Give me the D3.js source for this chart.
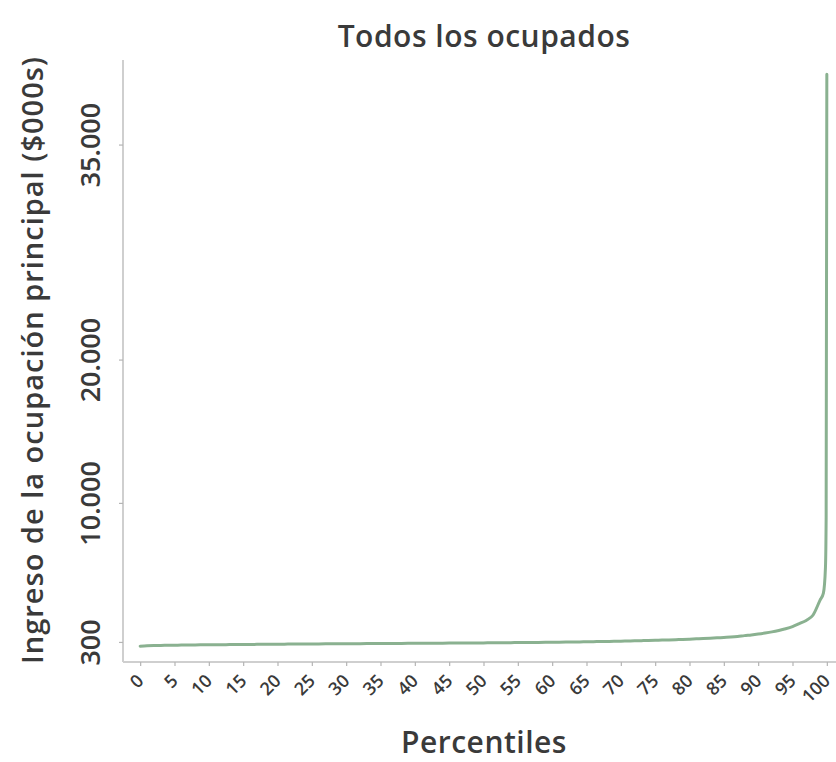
<!DOCTYPE html>
<html>
<head>
<meta charset="utf-8">
<script src="https://cdn.jsdelivr.net/npm/d3@7"></script>
<style>
  html, body { margin: 0; padding: 0; background: #ffffff; }
  svg { display: block; }
  text { font-family: "Open Sans", "DejaVu Sans", sans-serif; fill: #3a3a3a; }
</style>
</head>
<body>
<svg id="chart" width="836" height="762"></svg>
<script>
// ---- data ----
const chartTitle = "Todos los ocupados";
const xTitle = "Percentiles";
const yTitle = "Ingreso de la ocupación principal ($000s)";

const percentiles = [
  0, 1, 2, 3, 4, 5, 6, 7, 8, 9, 10,
  11, 12, 13, 14, 15, 16, 17, 18, 19, 20,
  21, 22, 23, 24, 25, 26, 27, 28, 29, 30,
  31, 32, 33, 34, 35, 36, 37, 38, 39, 40,
  41, 42, 43, 44, 45, 46, 47, 48, 49, 50,
  51, 52, 53, 54, 55, 56, 57, 58, 59, 60,
  61, 62, 63, 64, 65, 66, 67, 68, 69, 70,
  71, 72, 73, 74, 75, 76, 77, 78, 79, 80,
  81, 82, 83, 84, 85, 86, 87, 88, 89, 90,
  91, 92, 93, 94, 95, 96, 97, 98, 99, 99.5, 99.8, 99.9, 100
];
const incomes = [
  5, 30, 45, 55, 65, 72, 80, 86, 92, 97, 102,
  106, 110, 114, 118, 122, 126, 130, 134, 138, 142,
  146, 150, 153, 156, 159, 162, 165, 168, 171, 174,
  177, 180, 183, 186, 189, 192, 195, 198, 201, 204,
  207, 210, 213, 216, 219, 222, 225, 228, 231, 234,
  238, 242, 246, 250, 254, 258, 263, 268, 273, 278,
  284, 290, 296, 302, 310, 318, 326, 335, 344, 354,
  365, 376, 388, 400, 413, 427, 442, 458, 475, 494,
  514, 536, 560, 586, 614, 640, 680, 740, 790, 850,
  920, 1000, 1100, 1220, 1370, 1580, 1800, 2180, 3200, 3700, 5500, 9000, 39900
];

const xTickValues = [0, 5, 10, 15, 20, 25, 30, 35, 40, 45, 50, 55, 60, 65, 70, 75, 80, 85, 90, 95, 100];
const yTickValues = [300, 10000, 20000, 35000];
const yTickLabels = ["300", "10.000", "20.000", "35.000"];

// ---- layout ----
const svg = d3.select("#chart");
const mLeft = 123, mRight = 844, mTop = 60, mBottom = 662;

const x = d3.scaleLinear().domain([-2.5, 102.5]).range([mLeft, mRight]);
const y = d3.scaleLinear().domain([-1100, 40900]).range([mBottom, mTop]);

const axisColor = "#cfcfcf";

// axis lines
svg.append("line")
  .attr("x1", mLeft).attr("x2", mLeft).attr("y1", mTop).attr("y2", mBottom)
  .attr("stroke", axisColor).attr("stroke-width", 2);
svg.append("line")
  .attr("x1", mLeft).attr("x2", 836).attr("y1", mBottom).attr("y2", mBottom)
  .attr("stroke", axisColor).attr("stroke-width", 2);

// y axis ticks
const yAxis = d3.axisLeft(y).tickValues(yTickValues)
  .tickSize(4).tickFormat((d, i) => yTickLabels[i]);
const gy = svg.append("g").attr("transform", `translate(${mLeft},0)`).call(yAxis);
gy.select(".domain").remove();
gy.selectAll(".tick line").attr("stroke", "#b5b5b5").attr("stroke-width", 1.2);
gy.selectAll(".tick text")
  .attr("x", null).attr("dy", null)
  .attr("transform", "translate(-23,0) rotate(-90)")
  .attr("text-anchor", "middle")
  .style("font-size", "27px").style("font-weight", 600)
  .attr("fill", "#444");

// x axis ticks
const xAxis = d3.axisBottom(x).tickValues(xTickValues).tickSize(4).tickFormat(d3.format("d"));
const gx = svg.append("g").attr("transform", `translate(0,${mBottom})`).call(xAxis);
gx.select(".domain").remove();
gx.selectAll(".tick line").attr("stroke", "#b5b5b5").attr("stroke-width", 1.2);
gx.selectAll(".tick text")
  .attr("y", null).attr("dy", null)
  .attr("transform", "translate(4,20) rotate(-45)")
  .attr("text-anchor", "end")
  .style("font-size", "18px").style("font-weight", 600)
  .attr("fill", "#555");

// line
const data = percentiles.map((p, i) => ({ p: p, v: incomes[i] }));
const line = d3.line().curve(d3.curveMonotoneX).x(d => x(d.p)).y(d => y(d.v));
svg.append("path")
  .datum(data)
  .attr("d", line)
  .attr("fill", "none")
  .attr("stroke", "#8ab190")
  .attr("stroke-width", 3)
  .attr("stroke-linejoin", "round")
  .attr("stroke-linecap", "round");

// titles
svg.append("text")
  .attr("x", 484).attr("y", 47)
  .attr("text-anchor", "middle")
  .style("font-size", "30px").style("font-weight", 600)
  .style("letter-spacing", "0.5px")
  .text(chartTitle);

svg.append("text")
  .attr("x", 484).attr("y", 753)
  .attr("text-anchor", "middle")
  .style("font-size", "30px").style("font-weight", 600)
  .style("letter-spacing", "0.5px")
  .text(xTitle);

svg.append("text")
  .attr("transform", "translate(43,360) rotate(-90)")
  .attr("text-anchor", "middle")
  .style("font-size", "29px").style("font-weight", 600)
  .style("letter-spacing", "1px")
  .text(yTitle);
</script>
</body>
</html>
